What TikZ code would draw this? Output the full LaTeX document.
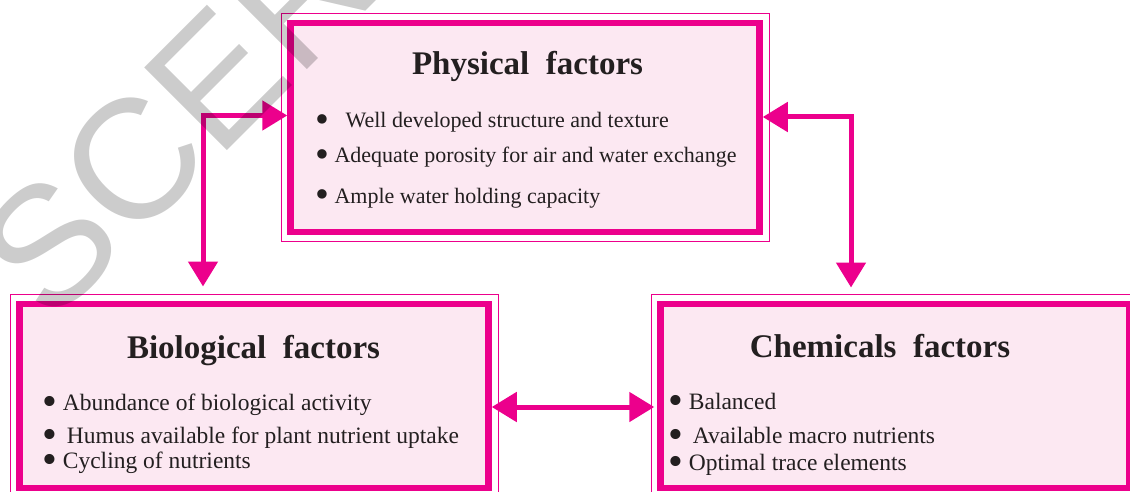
\documentclass[tikz,border=0pt]{standalone}
\usepackage{fontspec}
\setmainfont{Liberation Serif}
\newfontfamily\stampfont{Liberation Sans}
\usepackage{tikz}
\usetikzlibrary{arrows.meta,positioning,fit}

\definecolor{pinkline}{RGB}{236,0,140}
\definecolor{pinkfill}{RGB}{252,232,242}
\definecolor{ink}{RGB}{35,31,32}

% bigger bullet for the lists
\newcommand{\itemdot}{\raisebox{-5pt}{\scalebox{1.8}{\textbullet}}}

\begin{document}
\begin{tikzpicture}[
    x=1pt, y=-1pt,
    box/.style  ={rectangle, draw=pinkline, line width=6.5pt, fill=pinkfill,
                  minimum width=469pt, minimum height=#1, inner sep=0pt},
    frame/.style={rectangle, draw=pinkline, line width=1pt, inner sep=6.25pt},
    title/.style={anchor=base, inner sep=0pt, text=ink,
                  font=\fontsize{33}{36}\selectfont\bfseries},
    item/.style ={anchor=base west, inner sep=0pt, text=ink,
                  font=\fontsize{23.5}{26}\selectfont},
    link/.style ={draw=pinkline, line width=5pt,
                  {Triangle[length=25pt,width=29pt]}-{Triangle[length=25pt,width=29pt]}},
    stamp/.style={rotate=45, inner sep=0pt, text=black, text opacity=0.2,
                  font=\stampfont\fontsize{170}{170}\selectfont}
]
\useasboundingbox (0,0) rectangle (1130,492);
\clip (0,0) rectangle (1130,492);

%–––– BOXES –––––––––––––––––––––––––––––––––––––––––
\node (phys) [box=209pt] at (525,127.5) {};
\node (bio)  [box=184pt] at (254,396)   {};
\node (chem) [box=184pt] at (895,396)   {};

\foreach \b in {phys, bio, chem}
  \node (\b frame) [frame, fit=(\b)] {};

%–––– PHYSICAL ––––––––––––––––––––––––––––––––––––––
\node (phystitle) [title] at (527.5,75) {Physical\hspace{0.5em}factors};
\foreach \y/\txt [count=\i] in {128/{\ \ Well developed structure and texture},
                                163/{Adequate porosity for air and water exchange},
                                203/{Ample water holding capacity}}
  \node (phys\i) [item, font=\fontsize{22}{26}\selectfont] at (315,\y) {\itemdot\ \txt};

%–––– BIOLOGICAL ––––––––––––––––––––––––––––––––––––
\node (biotitle) [title] at (253.5,358) {Biological\hspace{0.5em}factors};
\foreach \y/\txt [count=\i] in {410/{Abundance of biological activity},
                                443/{\,Humus available for plant nutrient uptake},
                                468/{Cycling of nutrients}}
  \node (bio\i) [item] at (42,\y) {\itemdot\ \txt};

%–––– CHEMICAL ––––––––––––––––––––––––––––––––––––––
\node (chemtitle) [title] at (880,357) {Chemicals\hspace{0.5em}factors};
\foreach \y/\txt [count=\i] in {409/{Balanced},
                                443/{\,Available macro nutrients},
                                470/{Optimal trace elements}}
  \node (chem\i) [item] at (668,\y) {\itemdot\ \txt};

%–––– LINKS –––––––––––––––––––––––––––––––––––––––––
\coordinate (lbend) at (203,115.5);
\coordinate (rbend) at (851,117);
\coordinate (mid)   at (573,407);

\draw[link, shorten >=7.5pt] (phys.west |- lbend) -- (lbend) -- (lbend |- bioframe.north);
\draw[link, shorten >=6.5pt] (phys.east |- rbend) -- (rbend) -- (rbend |- chemframe.north);
\draw[link, shorten >=3pt]   (bio.east |- mid) -- (chem.west |- mid);

% watermark on top
\node (stampword) [stamp] at (212,83) {SCERT};
\end{tikzpicture}
\end{document}
